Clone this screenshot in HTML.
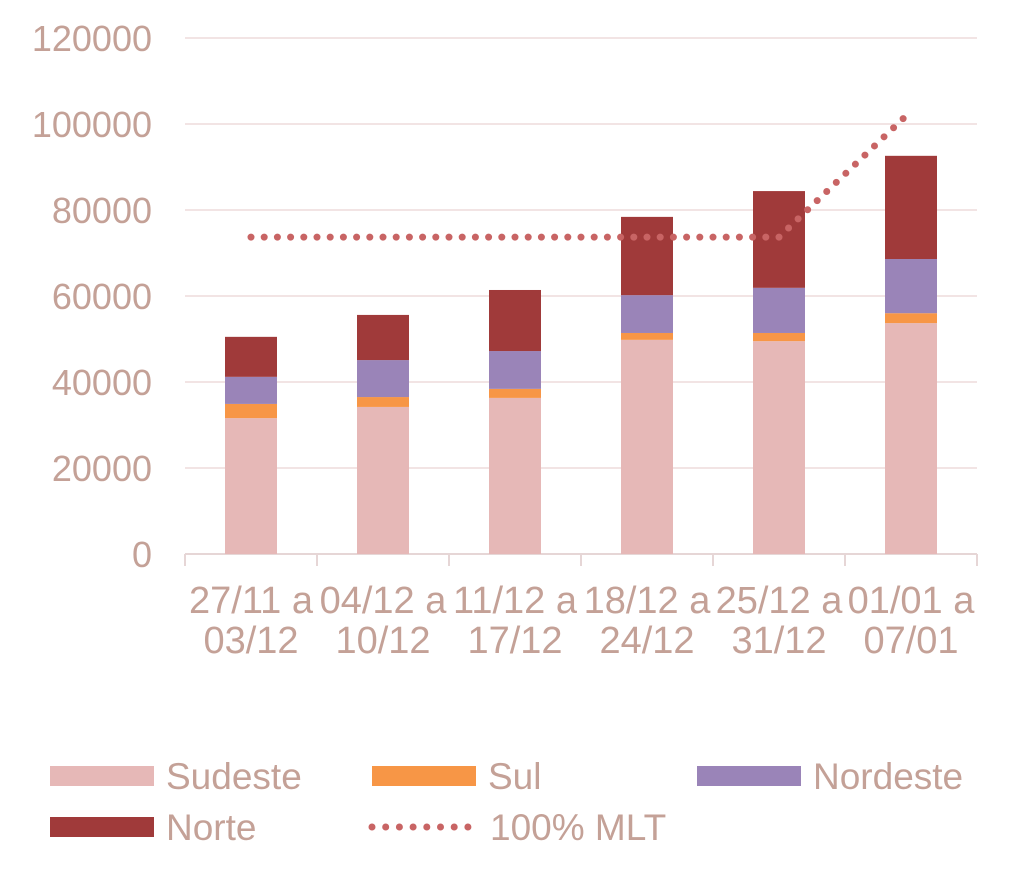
<!DOCTYPE html>
<html><head><meta charset="utf-8"><style>
body{margin:0;background:#fff;width:1024px;height:878px;overflow:hidden}
svg text{font-family:"Liberation Sans",sans-serif;fill:#c4a197}
</style></head><body>
<svg id="c" width="1024" height="878" xmlns="http://www.w3.org/2000/svg"></svg>
<script>
const categories=[["27/11 a","03/12"],["04/12 a","10/12"],["11/12 a","17/12"],["18/12 a","24/12"],["25/12 a","31/12"],["01/01 a","07/01"]];
const sudeste=[31600,34200,36300,49800,49500,53700];
const sul=[3300,2300,2100,1600,1900,2300];
const nordeste=[6300,8600,8800,8800,10500,12600];
const norte=[9300,10500,14200,18200,22500,24000];
const mlt=[73700,73700,73700,73700,73700,103000];
const yTicks=[0,20000,40000,60000,80000,100000,120000];
const NS='http://www.w3.org/2000/svg',svg=document.getElementById('c');
const x0=185,x1=977,y0=554,yTop=38,ymax=120000;
const bw=(x1-x0)/categories.length;
function Y(v){return y0-(v/ymax)*(y0-yTop);}
function X(i){return x0+bw*(i+0.5);}
function el(t,a){const e=document.createElementNS(NS,t);for(const k in a)e.setAttribute(k,a[k]);svg.appendChild(e);return e;}
yTicks.forEach(v=>{
  if(v>0){const g=el('line',{x1:x0,x2:x1,y1:Y(v),y2:Y(v),stroke:'#f2e4e4','stroke-width':2});
  
  }
  const t=el('text',{x:152,y:Y(v)+13,'text-anchor':'end','font-size':36});t.textContent=v;
  
  
});
const ax=el('line',{x1:x0,x2:x1,y1:y0,y2:y0,stroke:'#e6d6d6','stroke-width':2});


for(let i=0;i<=categories.length;i++){const tk=el('line',{x1:x0+bw*i,x2:x0+bw*i,y1:y0,y2:y0+12,stroke:'#e6d6d6','stroke-width':2});

}
const series=[[sudeste,'#e6b8b7','sudeste'],[sul,'#f79646','sul'],[nordeste,'#9a84b8','nordeste'],[norte,'#a03a3a','norte']];
categories.forEach((c,i)=>{
  let base=0;
  series.forEach(([arr,col,nm])=>{
    const r=el('rect',{x:X(i)-26,width:52,y:Y(base+arr[i]),height:Y(base)-Y(base+arr[i]),fill:col});
    
    
    base+=arr[i];
  });
  c.forEach((s,j)=>{const t=el('text',{x:X(i),y:613+j*40,'text-anchor':'middle','font-size':38});t.textContent=s;
  
  });
});
const pl=el('polyline',{points:mlt.map((v,i)=>X(i)+','+Y(v)).join(' '),fill:'none',stroke:'#c86464','stroke-width':7,'stroke-linecap':'round','stroke-dasharray':'0 13.2'});


const leg=[[50,776,'Sudeste','#e6b8b7'],[372,776,'Sul','#f79646'],[697,776,'Nordeste','#9a84b8'],[50,827,'Norte','#a03a3a']];
leg.forEach(([x,y,l,c])=>{
  const r=el('rect',{x:x,y:y-10,width:104,height:20,fill:c});
  
  
  const t=el('text',{x:x+116,y:y+13,'font-size':37});t.textContent=l;
  
  
});
const ll=el('line',{x1:372,x2:468,y1:827,y2:827,stroke:'#c86464','stroke-width':7,'stroke-linecap':'round','stroke-dasharray':'0 13.7'});


const lt=el('text',{x:490,y:840,'font-size':37});lt.textContent='100% MLT';


</script>
</body></html>
